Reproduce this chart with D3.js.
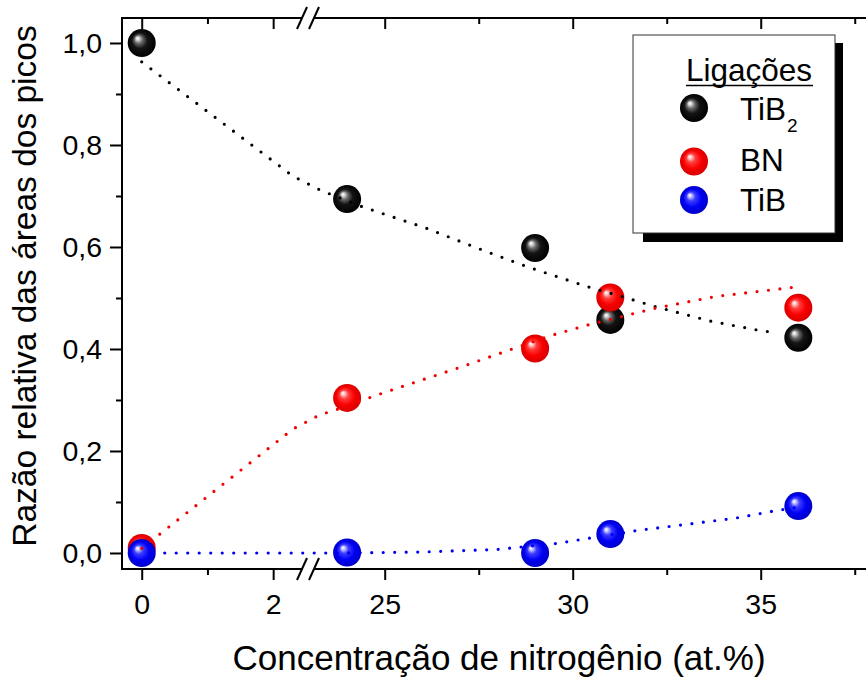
<!DOCTYPE html>
<html>
<head>
<meta charset="utf-8">
<script src="https://cdn.jsdelivr.net/npm/d3@7"></script>
<style>
  html, body { margin: 0; padding: 0; background: #fff; }
  svg { display: block; font-family: "Liberation Sans", Arial, Helvetica, sans-serif; }
</style>
</head>
<body>
<svg id="chart" width="866" height="677"></svg>
<script>
// Nitrogen concentration (at.%) of each sample
const concentration = [0, 24, 29, 31, 36];

// Relative peak-area ratios per bond type
const tib2Values = [1.0, 0.694, 0.598, 0.457, 0.422];
const bnValues   = [0.01, 0.304, 0.401, 0.501, 0.481];
const tibValues  = [0.0, 0.001, 0.0, 0.037, 0.092];

// Guide-to-the-eye trend curves, [concentration, ratio]
const tib2Trend = [[0, 0.963], [2.3, 0.739], [23.3, 0.711], [24.4, 0.679], [26.1, 0.637],
  [27.6, 0.594], [28.8, 0.561], [29.7, 0.539], [30.4, 0.522], [31.3, 0.503],
  [32.2, 0.483], [33.7, 0.454], [35.0, 0.436], [35.3, 0.433]];
const bnTrend = [[0, 0.009], [2.3, 0.243], [23.3, 0.272], [23.6, 0.278], [24.5, 0.302],
  [24.8, 0.31], [27.0, 0.364], [28.2, 0.395], [29.4, 0.426], [30.4, 0.447],
  [32.2, 0.48], [33.8, 0.503], [36.0, 0.522]];
const tibTrend = [[0.35, 0], [24, 0], [26, 0.002], [28, 0.007], [29.6, 0.019],
  [31.7, 0.044], [34.3, 0.068], [35.4, 0.083], [36.0, 0.09]];

// Tick values for the broken x axis and the y axis
const xTicksLeftMajor = [0, 2];
const xTicksLeftMinor = [1];
const xTicksRightMajor = [25, 30, 35];
const xTicksRightMinor = [27.5, 32.5, 37.5];
const yTicksMajor = [0, 0.2, 0.4, 0.6, 0.8, 1.0];
const yTicksMinor = [0.1, 0.3, 0.5, 0.7, 0.9];

const seriesNames = ["TiB", "BN", "TiB"];

const svg = d3.select("#chart");
const FONT_TICK = 28.5;

// Broken x axis: two linear pieces joined at the break
const BREAK_PX = 308;
const xL = d3.scaleLinear().domain([-0.3, 2.53]).range([122, BREAK_PX]);
const xR = d3.scaleLinear().domain([22.96, 37.8]).range([BREAK_PX, 866]);
const x = v => (v < 12 ? xL(v) : xR(v));
const y = d3.scaleLinear().domain([-0.0314, 1.049]).range([569, 18]);

const TOP = 18, BOTTOM = 569, LEFT = 122, RIGHT = 866;

// Gradients for the shaded sphere markers
const defs = svg.append("defs");
function sphere(id, stops) {
  const g = defs.append("radialGradient").attr("id", id)
    .attr("cx", "50%").attr("cy", "50%").attr("r", "50%")
    .attr("fx", "34%").attr("fy", "32%");
  stops.forEach(([o, c]) => g.append("stop").attr("offset", o).attr("stop-color", c));
}
sphere("ballBlack", [["0%", "#ffffff"], ["10%", "#e0e0e0"], ["30%", "#666"], ["55%", "#141414"], ["100%", "#000"]]);
sphere("ballRed", [["0%", "#ffffff"], ["10%", "#ffd6d6"], ["32%", "#ff3d3d"], ["65%", "#f80000"], ["100%", "#d80000"]]);
sphere("ballBlue", [["0%", "#ffffff"], ["10%", "#d6d6ff"], ["32%", "#3d3dff"], ["65%", "#0000f4"], ["100%", "#0000c8"]]);

// Axis helpers
function styleAxis(g) {
  g.select(".domain").remove();
  g.selectAll(".tick line").attr("stroke", "#000").attr("stroke-width", 2);
  g.selectAll(".tick text").attr("fill", "#000").attr("font-size", FONT_TICK)
    .attr("font-family", "'Liberation Sans', Arial, sans-serif");
}

// Bottom axis (outward ticks)
[[xL, xTicksLeftMajor, xTicksLeftMinor], [xR, xTicksRightMajor, xTicksRightMinor]].forEach(([sc, maj, min]) => {
  svg.append("g").attr("transform", `translate(0,${BOTTOM})`)
    .call(d3.axisBottom(sc).tickValues(maj).tickSize(11).tickPadding(14).tickFormat(d3.format("d")))
    .call(styleAxis);
  svg.append("g").attr("transform", `translate(0,${BOTTOM})`)
    .call(d3.axisBottom(sc).tickValues(min).tickSize(6).tickFormat(""))
    .call(styleAxis);
  // Top axis (inward ticks, no labels)
  svg.append("g").attr("transform", `translate(0,${TOP})`)
    .call(d3.axisTop(sc).tickValues(maj).tickSize(-11).tickFormat(""))
    .call(styleAxis);
  svg.append("g").attr("transform", `translate(0,${TOP})`)
    .call(d3.axisTop(sc).tickValues(min).tickSize(-6).tickFormat(""))
    .call(styleAxis);
});

// Left axis
svg.append("g").attr("transform", `translate(${LEFT},0)`)
  .call(d3.axisLeft(y).tickValues(yTicksMajor).tickSize(12).tickPadding(8)
    .tickFormat(d => d3.format(".1f")(d).replace(".", ",")))
  .call(styleAxis);
svg.append("g").attr("transform", `translate(${LEFT},0)`)
  .call(d3.axisLeft(y).tickValues(yTicksMinor).tickSize(6).tickFormat(""))
  .call(styleAxis);

// Frame lines with a gap at the axis break
const gapL = BREAK_PX - 6, gapR = BREAK_PX + 6;
const frame = svg.append("g").attr("stroke", "#000").attr("stroke-width", 2).attr("fill", "none");
frame.append("line").attr("x1", LEFT).attr("x2", LEFT).attr("y1", TOP - 1).attr("y2", BOTTOM + 1);
[TOP, BOTTOM].forEach(yy => {
  frame.append("line").attr("x1", LEFT).attr("x2", gapL).attr("y1", yy).attr("y2", yy);
  frame.append("line").attr("x1", gapR).attr("x2", RIGHT).attr("y1", yy).attr("y2", yy);
  [gapL, gapR].forEach(cx => {
    frame.append("line").attr("x1", cx - 5).attr("y1", yy + 11).attr("x2", cx + 5).attr("y2", yy - 11);
  });
});

// Markers
const groups = [
  { vals: tib2Values, fill: "url(#ballBlack)" },
  { vals: bnValues, fill: "url(#ballRed)" },
  { vals: tibValues, fill: "url(#ballBlue)" }
];
const R = 14;
groups.forEach(gr => {
  svg.append("g").selectAll("circle")
    .data(concentration.map((c, i) => [c, gr.vals[i]]))
    .join("circle")
    .attr("cx", d => x(d[0])).attr("cy", d => y(d[1])).attr("r", R)
    .attr("fill", gr.fill);
});

// Dotted trend curves
const line = d3.line().x(d => x(d[0])).y(d => y(d[1]));
[[tib2Trend, "#000"], [bnTrend, "#f00000"], [tibTrend, "#0000f0"]].forEach(([pts, col]) => {
  svg.append("path").datum(pts).attr("d", line)
    .attr("fill", "none").attr("stroke", col).attr("stroke-width", 3.2)
    .attr("stroke-linecap", "round").attr("stroke-dasharray", "0,11.5");
});

// Axis titles
svg.append("text")
  .attr("transform", "translate(36,286) rotate(-90)")
  .attr("text-anchor", "middle").attr("font-size", 33.5).attr("fill", "#000")
  .text("Razão relativa das áreas dos picos");
svg.append("text")
  .attr("x", 499).attr("y", 670)
  .attr("text-anchor", "middle").attr("font-size", 35).attr("fill", "#000")
  .text("Concentração de nitrogênio (at.%)");

// Legend
const lg = svg.append("g");
lg.append("rect").attr("x", 643).attr("y", 43).attr("width", 200).attr("height", 199).attr("fill", "#000");
lg.append("rect").attr("x", 633).attr("y", 35).attr("width", 202).attr("height", 198)
  .attr("fill", "#fff").attr("stroke", "#333").attr("stroke-width", 1);
lg.append("text").attr("x", 749).attr("y", 81).attr("text-anchor", "middle")
  .attr("font-size", 31.5).attr("fill", "#000").text("Ligações");
lg.append("line").attr("x1", 686).attr("x2", 813).attr("y1", 85.5).attr("y2", 85.5)
  .attr("stroke", "#000").attr("stroke-width", 1.6);
const legendRows = [
  { fill: "url(#ballBlack)", cy: 108, base: 120, sub: "2" },
  { fill: "url(#ballRed)", cy: 161.5, base: 171, sub: null, label: "BN" },
  { fill: "url(#ballBlue)", cy: 200, base: 211, sub: null }
];
legendRows.forEach((row, i) => {
  lg.append("circle").attr("cx", 694).attr("cy", row.cy).attr("r", 14).attr("fill", row.fill);
  const t = lg.append("text").attr("x", 740).attr("y", row.base).attr("font-size", 31.5).attr("fill", "#000")
    .text(row.label || seriesNames[i]);
  if (row.sub) {
    t.append("tspan").attr("font-size", 19).attr("dy", 12).attr("dx", 1).text(row.sub);
  }
});
</script>
</body>
</html>
